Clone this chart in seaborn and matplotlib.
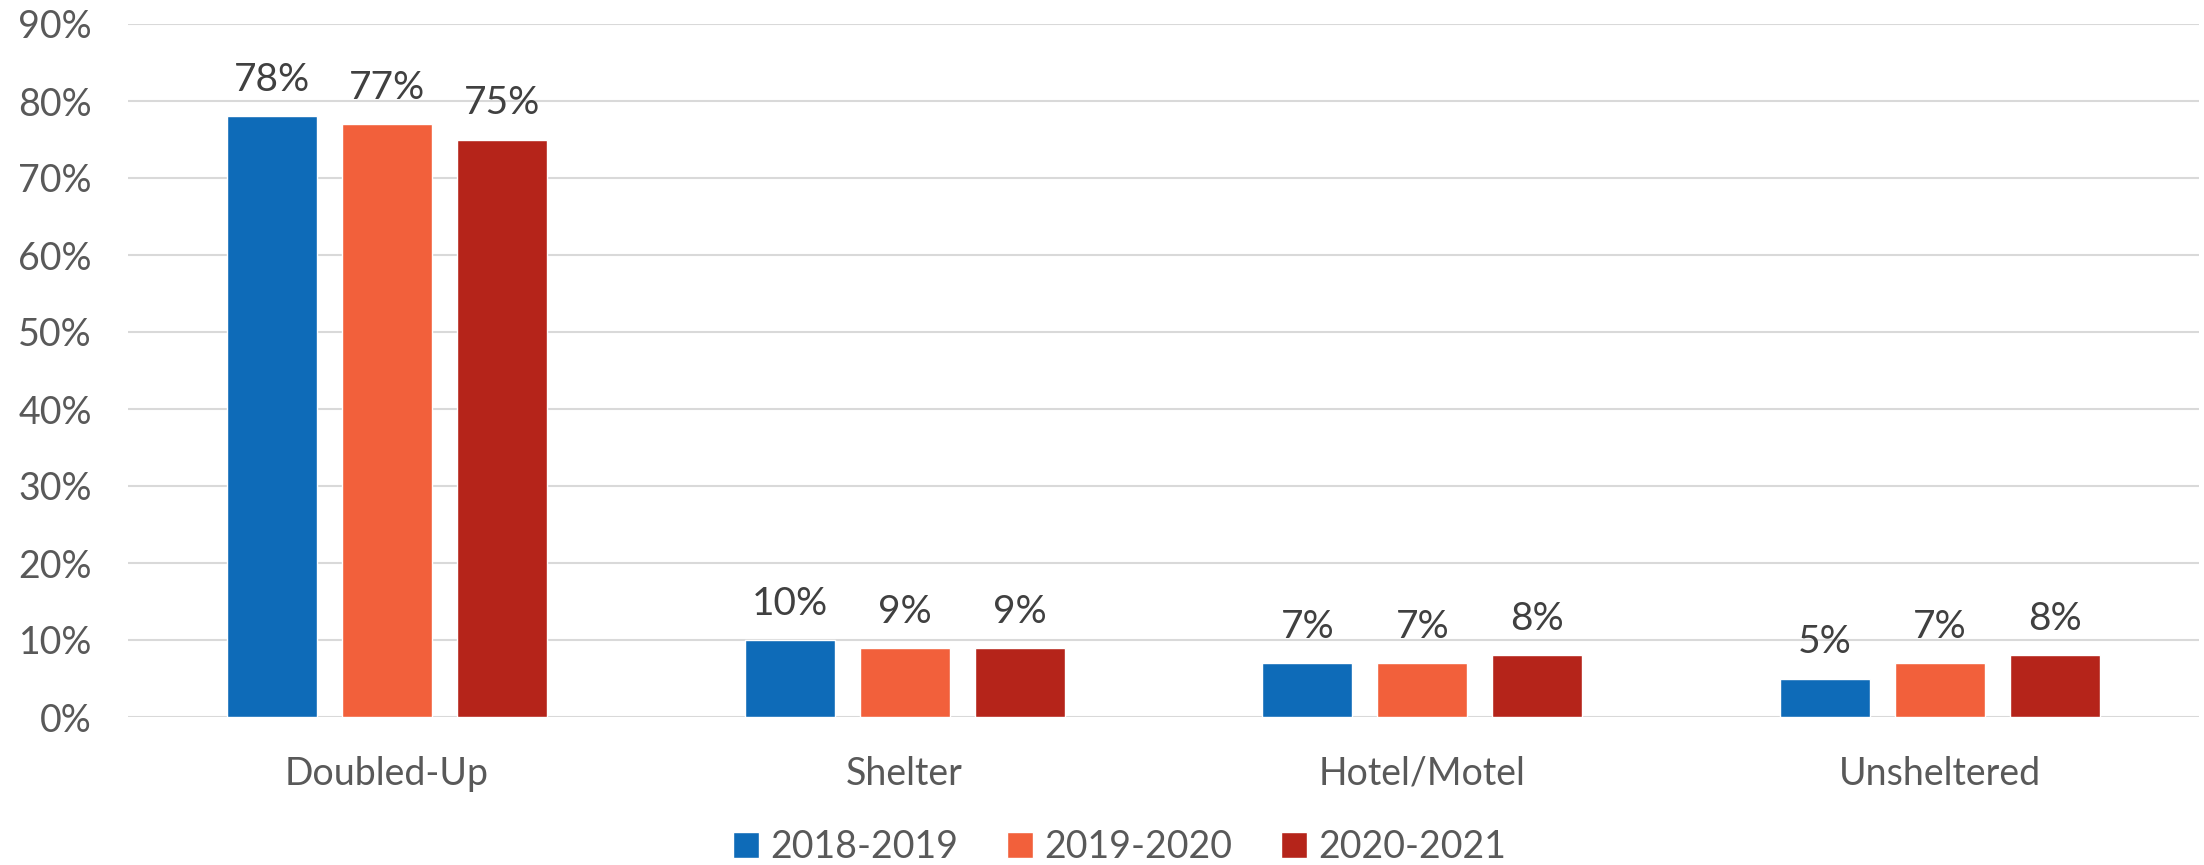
import matplotlib
matplotlib.use("Agg")
import matplotlib.pyplot as plt
import seaborn as sns
import pandas as pd
from matplotlib.patches import Patch

categories = ["Doubled-Up", "Shelter", "Hotel/Motel", "Unsheltered"]
years = ["2018-2019", "2019-2020", "2020-2021"]
v2019 = [78, 10, 7, 5]
v2020 = [77, 9, 7, 7]
v2021 = [75, 9, 8, 8]
colors = ["#0E6BB8", "#F2603B", "#B5241A"]

rows = []
for y, vals in zip(years, [v2019, v2020, v2021]):
    for c, v in zip(categories, vals):
        rows.append({"Category": c, "Year": y, "Value": v})
df = pd.DataFrame(rows)

sns.set_theme(style="white")
plt.rcParams["font.family"] = ["Lato", "DejaVu Sans"]
txt = "#595959"

fig = plt.figure(figsize=(22.04, 8.65), dpi=100)
ax = fig.add_axes([128/2204, 1-717/865, 2071/2204, (717-24)/865])

sns.barplot(data=df, x="Category", y="Value", hue="Year", palette=colors,
            width=0.666, gap=0.217, ax=ax, legend=False, saturation=1)

ax.set_ylim(0, 90)
ax.set_xlim(-0.5, 3.5)
ax.set_yticks(range(0, 91, 10))
ax.set_yticklabels([f"{t}%" for t in range(0, 91, 10)], fontsize=27, color=txt)
ax.tick_params(axis="x", labelsize=27, labelcolor=txt, pad=28, length=0)
ax.tick_params(axis="y", pad=26, length=0)
ax.set_xlabel("")
ax.set_ylabel("")
ax.yaxis.grid(True, color="#D9D9D9", linewidth=1.5)
ax.set_axisbelow(True)
for s in ax.spines.values():
    s.set_visible(False)

for cont in ax.containers:
    ax.bar_label(cont, labels=[f"{v:.0f}%" for v in cont.datavalues],
                 padding=13, fontsize=28, color="#404040")

handles = [Patch(facecolor=c, label=y) for c, y in zip(colors, years)]
fig.legend(handles=handles, loc="center", bbox_to_anchor=(0.508, 1-847/865),
           ncol=3, frameon=False, fontsize=27, labelcolor=txt,
           handlelength=0.7, handleheight=0.7, handletextpad=0.3,
           columnspacing=1.3)

fig.savefig("out.png", dpi=100)
